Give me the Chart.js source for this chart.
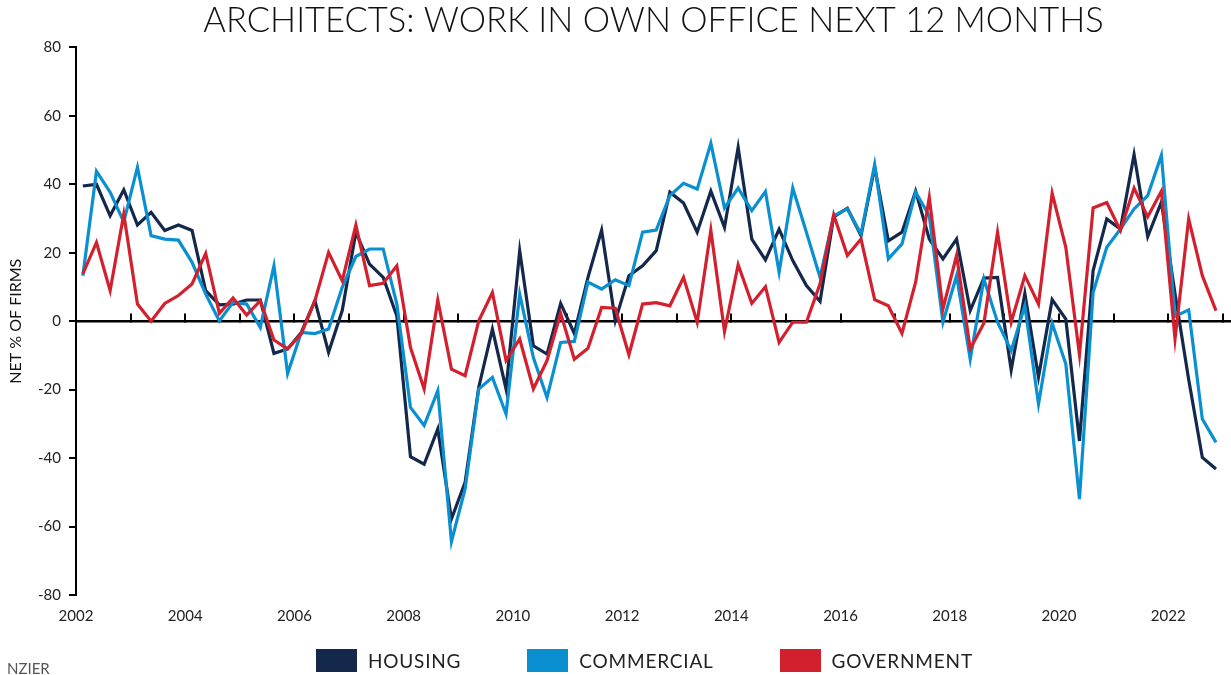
<!DOCTYPE html>
<html lang="en">
<head>
    <meta charset="UTF-8">
    <title>Architects: work in own office next 12 months</title>
    <script src="https://cdn.jsdelivr.net/npm/chart.js"></script>
    <style>
        body { margin: 0; background: #fff; }
        #wrap { position: relative; width: 1231px; height: 675px; }
        #legend { position: absolute; left: 316px; top: 649px; display: flex; gap: 66px;
                  font: 19px Lato, sans-serif; letter-spacing: 0.8px; color: #222; }
        .item { display: flex; align-items: center; height: 23px; }
        .swatch { width: 41px; height: 23px; margin-right: 11px; }
        #source { position: absolute; left: 7px; top: 659px; font: 15px Lato, sans-serif; color: #555; }
    </style>
</head>
<body>
<div id="wrap">
    <canvas id="chart" width="1231" height="675"></canvas>
    <div id="legend"></div>
    <div id="source">NZIER</div>
</div>

<script>
    // quarterly survey, 2002Q1 .. 2022Q4
    const quarters = [];
    for (let y = 2002; y <= 2022; y++) {
        for (let q = 1; q <= 4; q++) quarters.push(y + "Q" + q);
    }

    const housing = [
        39.5, 40, 30.8, 38.4, 28.1, 31.8, 26.5, 28.1, 26.5, 8.9, 4.8, 5.0, 6.2, 6.2,
        -9.4, -8.1, -3.3, 6.0, -9.1, 3.1, 26.0, 16.7, 12.8, 1.5, -39.6, -41.8, -31.5, -57.8,
        -47.1, -19.3, -2.3, -19.8, 20.6, -7.2, -9.6, 5.2, -3.6, 12.8, 26.6, 0.1, 13.3, 16.2,
        20.6, 37.7, 34.5, 26.0, 38.0, 27.4, 50.8, 24.0, 17.9, 26.9, 17.7, 10.4, 5.8, 30.5,
        33.0, 25.0, 45.0, 23.5, 26.0, 38.0, 24.0, 18.2, 24.0, 3.1, 12.6, 12.8, -14.3, 8.1,
        -16.3, 6.3, 0.6, -35.0, 14.8, 29.9, 26.9, 48.7, 24.7, 34.8, 8.0, -17.0, -39.8, -43.2
    ];
    const commercial = [
        13.3, 43.8, 37.7, 29.0, 45.0, 25.0, 24.0, 23.7, 17.2, 7.9, 0.1, 5.5, 5.0, -1.8,
        16.2, -15.3, -3.3, -3.6, -2.3, 9.9, 18.9, 21.1, 21.1, 5.0, -25.2, -30.5, -20.3, -64.4,
        -49.0, -19.8, -16.4, -27.1, 7.9, -10.6, -22.3, -6.2, -5.9, 11.4, 9.4, 12.1, 10.4, 26.0,
        26.6, 36.7, 40.3, 38.6, 52.0, 33.1, 38.9, 32.3, 37.9, 14.3, 38.9, 26.0, 12.8, 30.8,
        32.8, 25.5, 45.8, 18.2, 22.6, 37.7, 30.8, -0.3, 13.3, -11.1, 12.3, -0.3, -8.6, 4.5,
        -24.2, -0.6, -12.5, -52.0, 8.4, 21.6, 26.9, 32.8, 36.7, 48.5, 1.4, 3.3, -28.6, -35.4
    ];
    const government = [
        13.8, 23.0, 8.9, 31.3, 5.0, 0.0, 5.2, 7.5, 10.9, 19.8, 2.3, 6.8, 1.8, 6.0,
        -5.5, -8.1, -3.7, 6.0, 20.1, 11.8, 28.1, 10.4, 11.1, 16.2, -7.7, -19.8, 6.2, -14.0,
        -15.9, 0.1, 8.4, -11.5, -5.2, -19.8, -11.5, 2.3, -11.1, -7.9, 4.0, 3.8, -9.8, 5.0,
        5.4, 4.5, 12.8, -0.3, 26.6, -3.0, 16.5, 5.2, 10.1, -6.2, -0.3, -0.3, 10.9, 31.1,
        19.2, 24.0, 6.3, 4.5, -3.6, 11.4, 36.2, 3.6, 19.2, -8.1, -0.6, 26.0, -0.3, 13.3,
        5.0, 37.4, 21.6, -9.8, 33.1, 34.7, 26.5, 38.9, 30.5, 38.0, -5.2, 29.9, 13.3, 3.1
    ];

    const yearLabels = [2002, 2004, 2006, 2008, 2010, 2012, 2014, 2016, 2018, 2020, 2022];
    const yearMarks = [2002, 2003, 2004, 2005, 2006, 2007, 2008, 2009, 2010, 2011, 2012,
                       2013, 2014, 2015, 2016, 2017, 2018, 2019, 2020, 2021, 2022, 2023];
    const yTicks = [-80, -60, -40, -20, 0, 20, 40, 60, 80];

    // "2002Q1" -> middle of the quarter on a year scale
    function toYear(q) {
        return Number(q.slice(0, 4)) + (Number(q.slice(5)) - 0.5) / 4;
    }
    function points(values) {
        return quarters.map((q, i) => ({ x: toYear(q), y: values[i] }));
    }

    Chart.defaults.font.family = "Lato, sans-serif";

    const tickFont = { family: "Lato", size: 15 };

    const chart = new Chart(document.getElementById("chart"), {
        type: "line",
        data: {
            datasets: [
                { label: "HOUSING", data: points(housing), borderColor: "#14284b", backgroundColor: "#14284b", order: 3 },
                { label: "COMMERCIAL", data: points(commercial), borderColor: "#0a8fd0", backgroundColor: "#0a8fd0", order: 2 },
                { label: "GOVERNMENT", data: points(government), borderColor: "#d3202f", backgroundColor: "#d3202f", order: 1 }
            ]
        },
        options: {
            responsive: false,
            animation: false,
            layout: { padding: { bottom: 38 } },
            elements: {
                line: { borderWidth: 3.2, tension: 0 },
                point: { radius: 0 }
            },
            plugins: {
                legend: { display: false },
                tooltip: { enabled: false },
                title: {
                    display: true,
                    fullSize: false,
                    text: "ARCHITECTS: WORK IN OWN OFFICE NEXT 12 MONTHS",
                    color: "#111",
                    font: { family: "Lato", weight: 300, size: 34.5 },
                    padding: { top: 0, bottom: 6 }
                }
            },
            scales: {
                // zero line with year tick marks
                x: {
                    type: "linear",
                    position: { y: 0 },
                    min: 2002,
                    max: 2023.15,
                    afterBuildTicks: s => { s.ticks = yearMarks.map(v => ({ value: v })); },
                    ticks: { display: false },
                    grid: { drawOnChartArea: false, drawTicks: true, tickLength: -9, color: "#000", lineWidth: 2 },
                    border: { color: "#000", width: 2.5 }
                },
                // year labels at the bottom
                xLabels: {
                    type: "linear",
                    position: "bottom",
                    min: 2002,
                    max: 2023.15,
                    afterBuildTicks: s => { s.ticks = yearLabels.map(v => ({ value: v })); },
                    ticks: { padding: 12, font: tickFont, color: "#222", maxRotation: 0, autoSkip: false,
                             callback: v => String(v) },
                    grid: { display: false, drawTicks: false },
                    border: { display: false }
                },
                y: {
                    min: -80,
                    max: 80,
                    afterBuildTicks: s => { s.ticks = yTicks.map(v => ({ value: v })); },
                    afterFit: s => { s.width = 76; },
                    ticks: { padding: 8, font: tickFont, color: "#222" },
                    grid: { drawOnChartArea: false, tickLength: 7, color: "#000", lineWidth: 2 },
                    border: { color: "#000", width: 2 },
                    title: {
                        display: true,
                        text: "NET % OF FIRMS",
                        color: "#111",
                        font: { family: "Lato", size: 16 },
                        padding: { top: 6, bottom: 0 }
                    }
                }
            }
        }
    });

    // legend as html, built from the datasets
    const legend = document.getElementById("legend");
    chart.data.datasets.forEach(ds => {
        const item = document.createElement("div");
        item.className = "item";
        const sw = document.createElement("span");
        sw.className = "swatch";
        sw.style.background = ds.backgroundColor;
        const txt = document.createElement("span");
        txt.textContent = ds.label;
        item.appendChild(sw);
        item.appendChild(txt);
        legend.appendChild(item);
    });
</script>
</body>
</html>
